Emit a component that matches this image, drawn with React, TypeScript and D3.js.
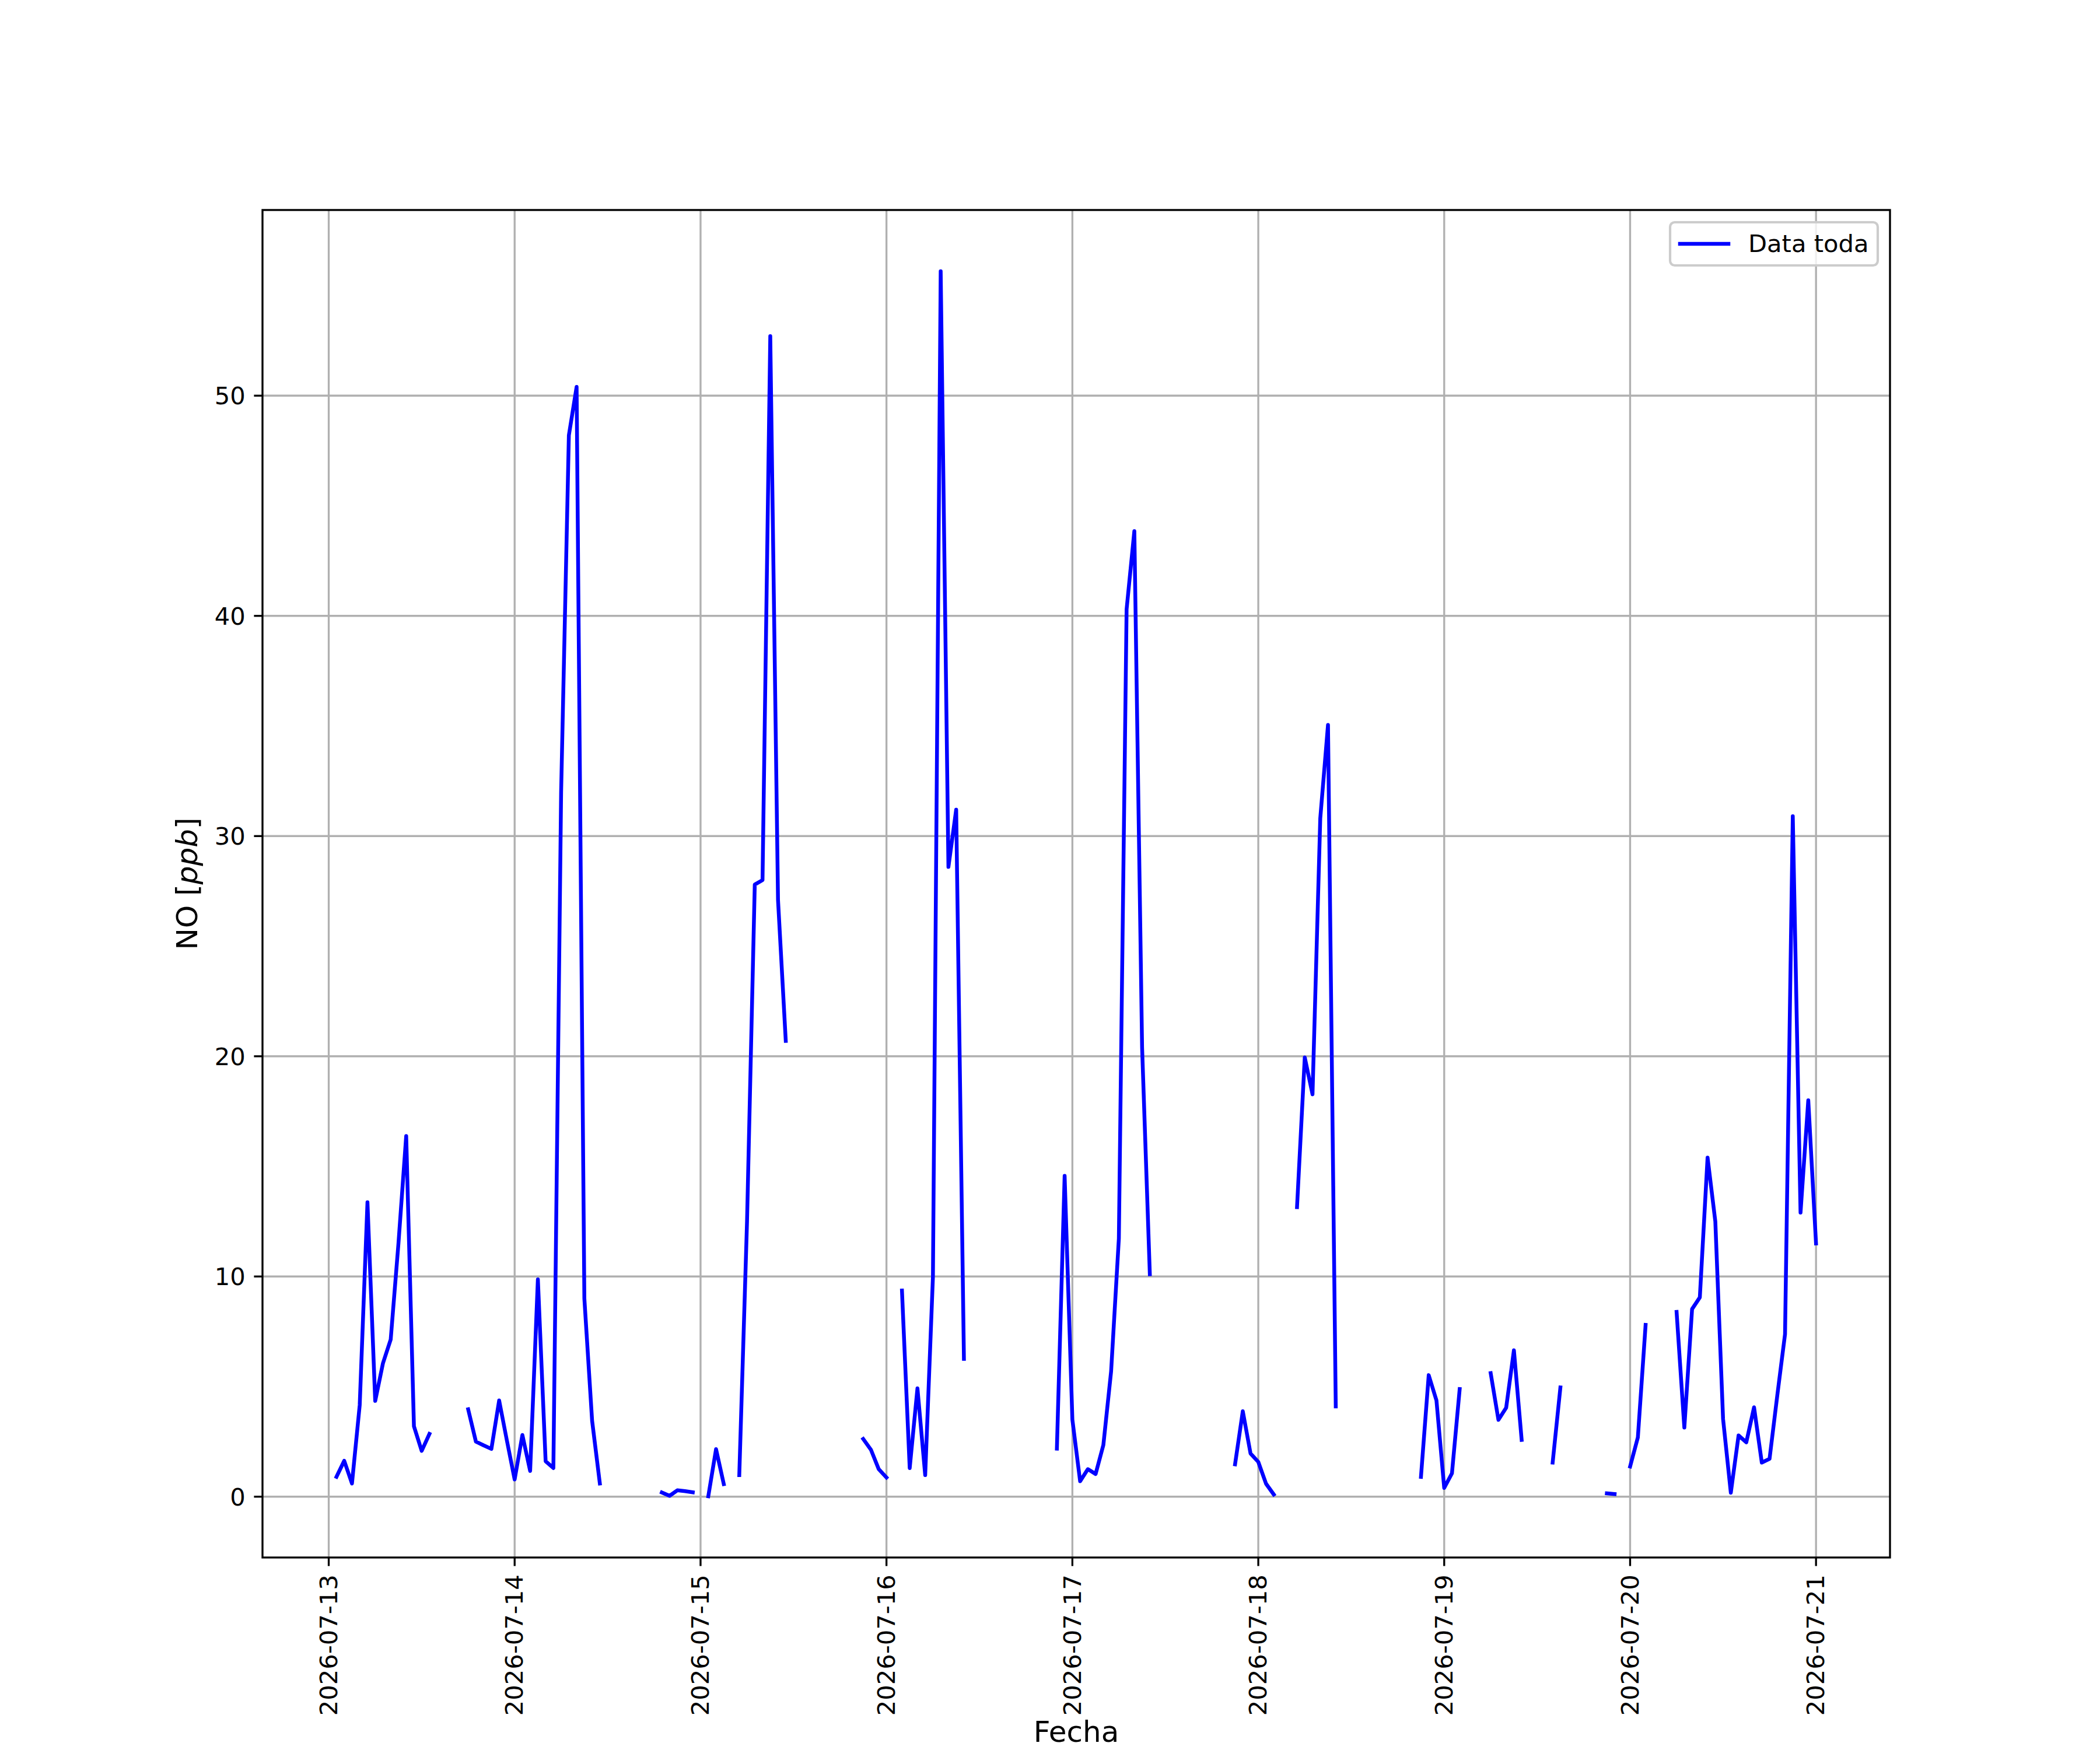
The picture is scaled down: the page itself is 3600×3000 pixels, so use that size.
import React from "react";
import * as d3 from "d3";

// Hourly NO readings [ppb], first reading at 2026-07-13 01:00 (UTC), null = missing
const startTime = Date.UTC(2026, 6, 13, 1, 0, 0);
const stepMs = 3600 * 1000;

const day13 = [0.9, 1.63, 0.6, 4.16, 13.37, 4.35, 6.06, 7.14, 11.5, 16.38, 3.2, 2.08, 2.85, null, null, null, null, 3.97, 2.5, 2.33, 2.17, 4.37, 2.55, 0.78];
const day14 = [2.8, 1.17, 9.87, 1.61, 1.3, 32, 48.2, 50.4, 9.0, 3.45, 0.6, null, null, null, null, null, null, null, 0.19, 0.04, 0.29, 0.25, 0.2, null];
const day15 = [0.02, 2.16, 0.57, null, 0.98, 12.5, 27.8, 28.0, 52.7, 27.1, 20.7, null, null, null, null, null, null, null, null, null, 2.62, 2.13, 1.25, 0.87];
const day16 = [null, 9.36, 1.3, 4.92, 0.98, 10.0, 55.65, 28.6, 31.2, 6.26, null, null, null, null, null, null, null, null, null, null, null, 2.18, 14.57, 3.5];
const day17 = [0.7, 1.25, 1.03, 2.35, 5.69, 11.72, 40.3, 43.85, 20.4, 10.1, null, null, null, null, null, null, null, null, null, null, 1.47, 3.88, 1.96, 1.58];
const day18 = [0.59, 0.1, null, null, 13.15, 19.95, 18.27, 30.8, 35.05, 4.1, null, null, null, null, null, null, null, null, null, null, 0.9, 5.52, 4.37, 0.4];
const day19 = [1.06, 4.89, null, null, null, 5.61, 3.49, 4.04, 6.65, 2.58, null, null, null, 1.55, 4.96, null, null, null, null, null, 0.15, 0.12, null, 1.37];
const day20 = [2.69, 7.8, null, null, null, 8.39, 3.14, 8.52, 9.05, 15.4, 12.5, 3.53, 0.18, 2.78, 2.47, 4.06, 1.55, 1.72, 4.6, 7.38, 30.9, 12.9, 18.0, 11.5];

const noValues: (number | null)[] = [...day13, ...day14, ...day15, ...day16, ...day17, ...day18, ...day19, ...day20];

const xTickDates = ["2026-07-13", "2026-07-14", "2026-07-15", "2026-07-16", "2026-07-17", "2026-07-18", "2026-07-19", "2026-07-20", "2026-07-21"];
const yTickValues = [0, 10, 20, 30, 40, 50];
const legendLabel = "Data toda";
const xAxisLabel = "Fecha";

type Pt = { t: Date; v: number | null };

export default function App() {
  const W = 3600;
  const H = 3000;
  const left = 450;
  const right = 3240;
  const top = 360;
  const bottom = 2670;
  const font = "DejaVu Sans, Liberation Sans, sans-serif";
  const tickFs = 41.67;
  const labelFs = 50;
  const gridColor = "#b0b0b0";
  const thin = 3.33;
  const tickLen = 14.6;
  const lineW = 6.5;

  const points: Pt[] = noValues.map((v, i) => ({ t: new Date(startTime + i * stepMs), v }));
  const valid = points.filter((p) => p.v != null) as { t: Date; v: number }[];
  const [t0, t1] = d3.extent(valid, (p) => p.t.getTime()) as [number, number];
  const [v0, v1] = d3.extent(valid, (p) => p.v) as [number, number];
  const tm = (t1 - t0) * 0.05;
  const vm = (v1 - v0) * 0.05;

  const x = d3.scaleUtc().domain([new Date(t0 - tm), new Date(t1 + tm)]).range([left, right]);
  const y = d3.scaleLinear().domain([v0 - vm, v1 + vm]).range([bottom, top]);

  const line = d3
    .line<Pt>()
    .defined((p) => p.v != null)
    .x((p) => x(p.t))
    .y((p) => y(p.v as number));

  const xTicks = xTickDates.map((s) => new Date(s + "T00:00:00Z"));
  const fmt = d3.utcFormat("%Y-%m-%d");

  const legX = 2863;
  const legY = 381;
  const legW = 356;
  const legH = 74;
  const legMidY = 418;

  return (
    <svg
      width={W}
      height={H}
      viewBox={`0 0 ${W} ${H}`}
      style={{ position: "absolute", left: 0, top: 0, display: "block" }}
      fontFamily={font}
    >
      <rect x={0} y={0} width={W} height={H} fill="#ffffff" />
      <rect x={left} y={top} width={right - left} height={bottom - top} fill="#ffffff" />

      {/* grid */}
      <g stroke={gridColor} strokeWidth={thin}>
        {xTicks.map((d, i) => (
          <line key={"gx" + i} x1={x(d)} x2={x(d)} y1={top} y2={bottom} />
        ))}
        {yTickValues.map((v, i) => (
          <line key={"gy" + i} x1={left} x2={right} y1={y(v)} y2={y(v)} />
        ))}
      </g>

      {/* data line */}
      <path
        d={line(points) || ""}
        fill="none"
        stroke="#0000ff"
        strokeWidth={lineW}
        strokeLinejoin="round"
        strokeLinecap="square"
      />

      {/* spines */}
      <rect x={left} y={top} width={right - left} height={bottom - top} fill="none" stroke="#000000" strokeWidth={thin} />

      {/* x ticks */}
      <g>
        {xTicks.map((d, i) => (
          <g key={"xt" + i}>
            <line x1={x(d)} x2={x(d)} y1={bottom} y2={bottom + tickLen} stroke="#000" strokeWidth={thin} />
            <text
              transform={`translate(${x(d)},${bottom + tickLen + 14.6}) rotate(-90)`}
              textAnchor="end"
              dy="0.34em"
              fontSize={tickFs}
              fill="#000"
            >
              {fmt(d)}
            </text>
          </g>
        ))}
      </g>

      {/* y ticks */}
      <g>
        {yTickValues.map((v, i) => (
          <g key={"yt" + i}>
            <line x1={left - tickLen} x2={left} y1={y(v)} y2={y(v)} stroke="#000" strokeWidth={thin} />
            <text x={left - tickLen - 14.6} y={y(v)} dy="0.36em" textAnchor="end" fontSize={tickFs} fill="#000">
              {v}
            </text>
          </g>
        ))}
      </g>

      {/* axis labels */}
      <text x={(left + right) / 2} y={2986} textAnchor="middle" fontSize={labelFs} fill="#000">
        {xAxisLabel}
      </text>
      <text transform={`translate(338,${(top + bottom) / 2}) rotate(-90)`} textAnchor="middle" fontSize={labelFs} fill="#000">
        NO [<tspan fontStyle="italic">ppb</tspan>]
      </text>

      {/* legend */}
      <rect
        x={legX}
        y={legY}
        width={legW}
        height={legH}
        rx={8}
        ry={8}
        fill="#ffffff"
        fillOpacity={0.8}
        stroke="#cccccc"
        strokeWidth={4.17}
      />
      <line x1={2880} x2={2963} y1={legMidY} y2={legMidY} stroke="#0000ff" strokeWidth={lineW} strokeLinecap="square" />
      <text x={2997} y={432} fontSize={tickFs} fill="#000">
        {legendLabel}
      </text>
    </svg>
  );
}
